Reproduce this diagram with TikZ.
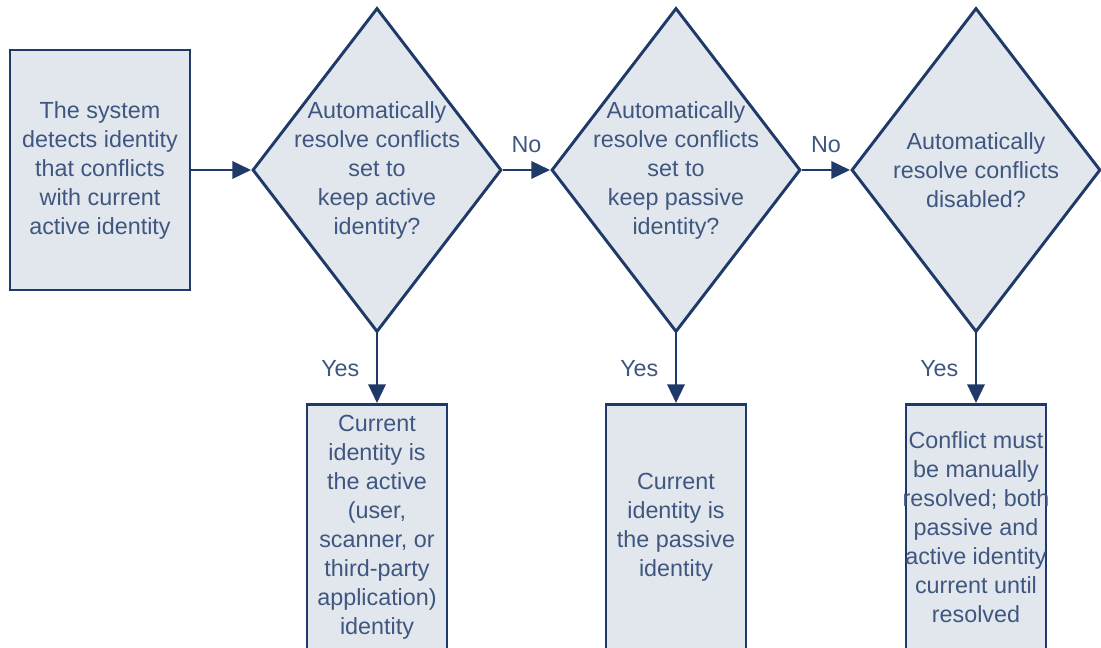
\documentclass[tikz,border=0pt]{standalone}
\usepackage{fontspec}
\setmainfont{Liberation Sans}
\usetikzlibrary{shapes.geometric, arrows.meta, positioning}
\definecolor{flowline}{HTML}{1F3A68}
\definecolor{flowfill}{HTML}{E1E7ED}
\definecolor{flowtext}{HTML}{3F5780}

\begin{document}
\begin{tikzpicture}[
  x=0.75pt, y=-0.75pt,
  every node/.style={font=\fontsize{17.5}{21.75}\selectfont, text=flowtext},
  process/.style={draw=flowline, line width=2.2pt, fill=flowfill, align=center, inner sep=0pt},
  result/.style={process, anchor=north, minimum width=105pt, minimum height=200pt},
  decision/.style={diamond, draw=flowline, line width=2.2pt, fill=flowfill, inner sep=0pt,
    minimum width=186.75pt, minimum height=243pt},
  dtext/.style={align=center},
  rtext/.style={align=center, yshift=8pt},
  arr/.style={-{Triangle[length=14pt,width=13pt]}, draw=flowline, line width=1.8pt},
  lbl/.style={}
]
\useasboundingbox (0,0) rectangle (1101,648);

\node[process, minimum width=135pt, minimum height=180pt] (detect) at (100,170)
  {The system\\detects identity\\that conflicts\\with current\\active identity};

\node[decision, label={[dtext]center:{Automatically\\resolve conflicts\\set to\\keep active\\identity?}}] (qactive) at (377,170) {};
\node[decision, label={[dtext]center:{Automatically\\resolve conflicts\\set to\\keep passive\\identity?}}] (qpassive) at (676,170) {};
\node[decision, label={[dtext]center:{Automatically\\resolve conflicts\\disabled?}}] (qdisabled) at (976,170) {};

% result boxes run past the lower edge
\node[result, label={[rtext]center:{Current\\identity is\\the active\\(user,\\scanner, or\\third-party\\application)\\identity}}] (ractive) at (377,403) {};
\node[result, label={[rtext]center:{Current\\identity is\\the passive\\identity}}] (rpassive) at (676,403) {};
\node[result, label={[rtext]center:{Conflict must\\be manually\\resolved; both\\passive and\\active identity\\current until\\resolved}}] (rmanual) at (976,403) {};

\draw[arr] (detect) -- (qactive);
\draw[arr] (qactive) -- node[lbl, above=9pt]{No} (qpassive);
\draw[arr] (qpassive) -- node[lbl, above=9pt]{No} (qdisabled);
\draw[arr] (qactive) -- node[lbl, left=9pt]{Yes} (ractive);
\draw[arr] (qpassive) -- node[lbl, left=9pt]{Yes} (rpassive);
\draw[arr] (qdisabled) -- node[lbl, left=9pt]{Yes} (rmanual);

\end{tikzpicture}
\end{document}
